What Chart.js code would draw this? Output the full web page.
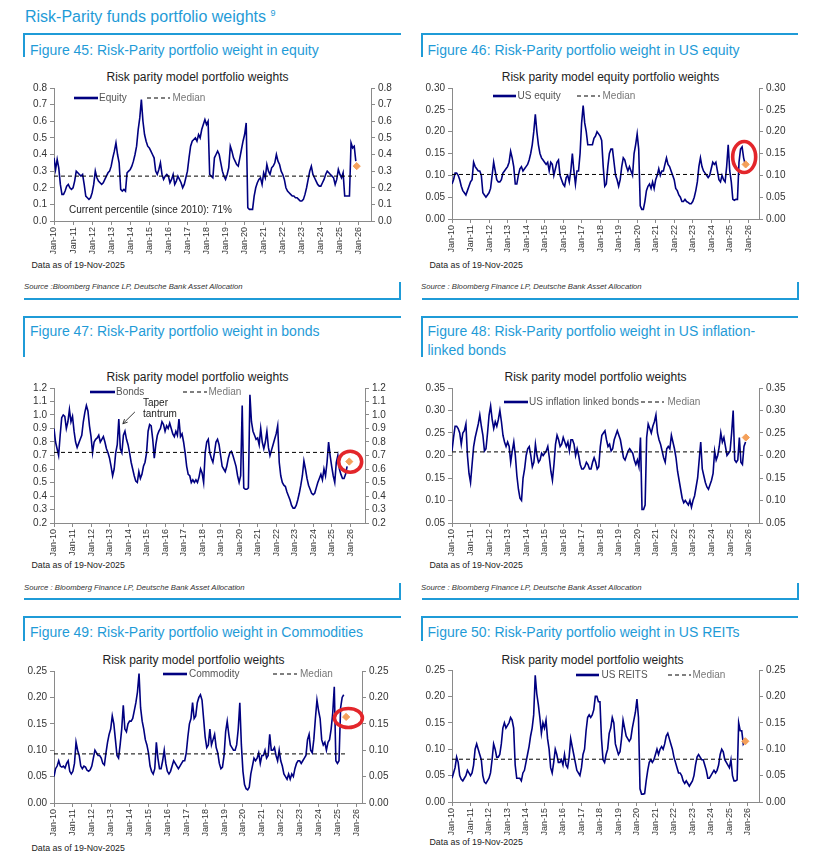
<!DOCTYPE html>
<html>
<head>
<meta charset="utf-8">
<script src="https://cdn.jsdelivr.net/npm/chart.js@4.4.1/dist/chart.umd.min.js"></script>
<style>
  body { margin: 0; background: #fff; font-family: "Liberation Sans", Arial, sans-serif; }
  #page { position: relative; width: 822px; height: 854px; overflow: hidden; }
  .t { position: absolute; white-space: nowrap; }
  .rule { position: absolute; background: #1f9bd7; }
  canvas { position: absolute; }
</style>
</head>
<body>
<div id="page"></div>
<script>
// monthly readings, Jan-10 onwards
const xTickLabels = ['Jan-10','Jan-11','Jan-12','Jan-13','Jan-14','Jan-15','Jan-16','Jan-17',
  'Jan-18','Jan-19','Jan-20','Jan-21','Jan-22','Jan-23','Jan-24','Jan-25','Jan-26'];

const equity = [
  0.38,0.31,0.37,0.32,0.22,0.16,0.16,0.18,0.21,0.22,0.20,0.19,
  0.20,0.24,0.30,0.29,0.28,0.27,0.28,0.22,0.15,0.14,0.13,0.14,
  0.17,0.22,0.30,0.26,0.24,0.23,0.22,0.23,0.25,0.27,0.29,0.30,
  0.33,0.38,0.42,0.47,0.40,0.35,0.19,0.18,0.19,0.18,0.29,0.30,
  0.31,0.33,0.36,0.40,0.45,0.55,0.62,0.73,0.60,0.52,0.48,0.45,
  0.44,0.42,0.40,0.38,0.30,0.28,0.31,0.35,0.28,0.25,0.27,0.28,
  0.27,0.23,0.25,0.28,0.22,0.24,0.27,0.25,0.23,0.20,0.22,0.26,
  0.30,0.38,0.45,0.48,0.49,0.50,0.48,0.52,0.50,0.55,0.58,0.61,
  0.58,0.60,0.28,0.27,0.26,0.38,0.40,0.42,0.40,0.35,0.30,0.27,
  0.25,0.28,0.32,0.45,0.42,0.38,0.36,0.34,0.33,0.38,0.43,0.48,
  0.52,0.59,0.08,0.07,0.07,0.07,0.15,0.20,0.23,0.25,0.26,0.22,
  0.29,0.26,0.34,0.30,0.28,0.32,0.33,0.35,0.40,0.36,0.34,0.30,
  0.28,0.25,0.20,0.18,0.17,0.16,0.15,0.15,0.14,0.14,0.13,0.12,
  0.12,0.13,0.16,0.20,0.25,0.30,0.33,0.28,0.26,0.24,0.22,0.21,
  0.21,0.23,0.25,0.28,0.30,0.29,0.28,0.27,0.26,0.22,0.25,0.31,
  0.28,0.26,0.29,0.15,0.15,0.15,0.15,0.47,0.44,0.45,0.36
];

const usEquity = [
  0.08,0.09,0.105,0.105,0.10,0.09,0.075,0.065,0.06,0.055,0.065,0.075,
  0.085,0.09,0.13,0.12,0.115,0.11,0.11,0.10,0.06,0.055,0.05,0.055,
  0.06,0.07,0.10,0.13,0.11,0.09,0.085,0.085,0.09,0.105,0.11,0.115,
  0.12,0.13,0.155,0.14,0.12,0.08,0.08,0.10,0.115,0.12,0.11,0.115,
  0.12,0.125,0.135,0.15,0.17,0.20,0.24,0.20,0.17,0.15,0.14,0.135,
  0.13,0.125,0.13,0.11,0.13,0.125,0.10,0.115,0.13,0.135,0.10,0.09,
  0.08,0.075,0.095,0.10,0.085,0.11,0.15,0.11,0.08,0.11,0.11,0.15,
  0.22,0.26,0.22,0.20,0.17,0.17,0.17,0.17,0.185,0.19,0.20,0.195,
  0.19,0.18,0.12,0.075,0.08,0.12,0.15,0.16,0.16,0.13,0.10,0.09,
  0.075,0.09,0.12,0.14,0.135,0.12,0.11,0.12,0.11,0.10,0.15,0.17,
  0.195,0.16,0.03,0.022,0.022,0.04,0.065,0.075,0.08,0.07,0.085,0.07,
  0.09,0.10,0.115,0.10,0.11,0.11,0.125,0.14,0.125,0.12,0.11,0.10,
  0.09,0.07,0.065,0.055,0.05,0.04,0.04,0.045,0.04,0.038,0.035,0.035,
  0.04,0.05,0.065,0.085,0.12,0.14,0.12,0.11,0.105,0.10,0.095,0.10,
  0.115,0.13,0.125,0.13,0.11,0.09,0.085,0.10,0.09,0.085,0.12,0.17,
  0.11,0.085,0.045,0.043,0.045,0.045,0.13,0.16,0.165,0.14,0.125
];

const bonds = [
  0.90,0.80,0.75,0.70,0.85,0.98,1.00,0.99,0.90,0.95,1.04,0.95,
  0.99,0.88,0.80,0.76,0.79,0.82,0.85,0.95,1.02,1.07,1.03,0.92,
  0.84,0.72,0.80,0.82,0.83,0.85,0.80,0.82,0.84,0.80,0.75,0.72,
  0.68,0.62,0.55,0.60,0.72,0.78,0.97,0.75,0.72,0.85,0.88,0.82,
  0.78,0.72,0.65,0.60,0.55,0.51,0.50,0.58,0.53,0.56,0.62,0.65,
  0.72,0.88,0.93,0.92,0.82,0.68,0.78,0.85,0.88,0.90,0.95,0.93,
  0.88,0.92,0.90,0.94,0.90,0.86,0.84,0.88,0.85,0.97,0.84,0.86,
  0.80,0.72,0.62,0.56,0.55,0.50,0.52,0.50,0.52,0.50,0.54,0.60,
  0.57,0.50,0.72,0.80,0.82,0.72,0.68,0.65,0.72,0.80,0.82,0.78,
  0.70,0.62,0.60,0.58,0.62,0.68,0.72,0.73,0.70,0.66,0.62,0.55,
  0.50,0.55,1.07,0.46,0.45,0.45,0.46,1.15,0.95,0.88,0.85,0.82,
  0.83,0.78,0.90,0.80,0.75,0.80,0.88,0.76,0.70,0.74,0.78,0.82,
  0.86,0.92,0.65,0.55,0.50,0.48,0.47,0.43,0.40,0.37,0.33,0.31,
  0.31,0.33,0.37,0.42,0.48,0.55,0.66,0.60,0.53,0.48,0.45,0.42,
  0.41,0.42,0.46,0.50,0.53,0.56,0.52,0.60,0.55,0.65,0.80,0.70,
  0.62,0.55,0.50,0.65,0.70,0.60,0.56,0.53,0.53,0.56,0.62
];

const inflationLinked = [
  0.21,0.24,0.265,0.265,0.26,0.25,0.225,0.25,0.255,0.27,0.20,0.16,
  0.14,0.18,0.22,0.24,0.255,0.27,0.29,0.265,0.245,0.21,0.215,0.25,
  0.29,0.31,0.28,0.26,0.275,0.265,0.28,0.30,0.275,0.245,0.23,0.22,
  0.23,0.22,0.185,0.21,0.23,0.20,0.155,0.125,0.105,0.10,0.15,0.17,
  0.20,0.215,0.22,0.20,0.175,0.185,0.225,0.20,0.185,0.19,0.205,0.20,
  0.205,0.21,0.22,0.195,0.165,0.145,0.18,0.225,0.245,0.235,0.22,0.225,
  0.24,0.23,0.22,0.23,0.21,0.235,0.235,0.225,0.20,0.215,0.20,0.18,
  0.17,0.17,0.175,0.185,0.18,0.17,0.17,0.185,0.195,0.185,0.17,0.175,
  0.22,0.245,0.25,0.255,0.235,0.22,0.225,0.21,0.215,0.235,0.245,0.255,
  0.245,0.235,0.215,0.195,0.19,0.20,0.21,0.215,0.21,0.205,0.19,0.18,
  0.19,0.175,0.24,0.08,0.08,0.09,0.24,0.27,0.26,0.25,0.265,0.275,
  0.29,0.25,0.235,0.225,0.21,0.195,0.185,0.215,0.22,0.215,0.245,0.23,
  0.215,0.195,0.165,0.145,0.125,0.105,0.095,0.10,0.095,0.09,0.10,0.085,
  0.10,0.11,0.13,0.15,0.19,0.23,0.17,0.155,0.14,0.13,0.125,0.135,
  0.145,0.16,0.21,0.19,0.20,0.22,0.25,0.23,0.24,0.22,0.20,0.205,
  0.21,0.25,0.30,0.19,0.185,0.19,0.24,0.185,0.18,0.22,0.23
];

const commodity = [
  0.05,0.065,0.07,0.08,0.07,0.068,0.07,0.066,0.075,0.08,0.06,0.055,
  0.06,0.075,0.115,0.10,0.09,0.07,0.065,0.07,0.068,0.062,0.06,0.063,
  0.07,0.085,0.10,0.095,0.09,0.09,0.085,0.075,0.072,0.095,0.115,0.13,
  0.14,0.165,0.15,0.12,0.09,0.085,0.11,0.14,0.185,0.14,0.135,0.15,
  0.155,0.155,0.16,0.175,0.19,0.21,0.245,0.18,0.155,0.14,0.12,0.11,
  0.095,0.07,0.06,0.055,0.065,0.115,0.085,0.065,0.065,0.08,0.10,0.075,
  0.06,0.055,0.06,0.07,0.08,0.075,0.07,0.065,0.07,0.075,0.08,0.08,
  0.095,0.125,0.15,0.16,0.19,0.16,0.165,0.19,0.20,0.205,0.195,0.16,
  0.125,0.105,0.11,0.14,0.11,0.12,0.13,0.105,0.095,0.075,0.065,0.068,
  0.09,0.135,0.155,0.13,0.11,0.105,0.10,0.10,0.11,0.14,0.19,0.11,
  0.06,0.035,0.027,0.025,0.03,0.055,0.07,0.085,0.08,0.085,0.095,0.075,
  0.09,0.09,0.10,0.085,0.09,0.13,0.10,0.10,0.105,0.09,0.08,0.10,
  0.08,0.07,0.055,0.05,0.045,0.055,0.045,0.055,0.05,0.065,0.075,0.08,
  0.08,0.075,0.08,0.085,0.09,0.12,0.13,0.10,0.095,0.12,0.16,0.195,
  0.175,0.16,0.12,0.11,0.115,0.10,0.115,0.12,0.14,0.17,0.22,0.08,
  0.075,0.08,0.18,0.20,0.205
];

const reits = [
  0.045,0.055,0.065,0.085,0.075,0.05,0.043,0.04,0.045,0.05,0.06,0.055,
  0.05,0.055,0.07,0.10,0.11,0.10,0.09,0.08,0.05,0.038,0.035,0.04,
  0.045,0.055,0.08,0.11,0.10,0.085,0.085,0.09,0.11,0.14,0.15,0.14,
  0.145,0.15,0.16,0.155,0.14,0.07,0.045,0.045,0.045,0.04,0.055,0.06,
  0.075,0.09,0.105,0.125,0.14,0.165,0.24,0.205,0.185,0.16,0.13,0.15,
  0.14,0.155,0.12,0.10,0.065,0.055,0.075,0.10,0.09,0.075,0.075,0.08,
  0.07,0.09,0.07,0.065,0.085,0.12,0.105,0.09,0.075,0.06,0.055,0.05,
  0.065,0.09,0.10,0.135,0.16,0.165,0.16,0.165,0.175,0.20,0.20,0.19,
  0.19,0.12,0.08,0.075,0.09,0.10,0.13,0.14,0.16,0.15,0.11,0.10,
  0.09,0.095,0.12,0.155,0.14,0.125,0.12,0.115,0.12,0.14,0.155,0.17,
  0.195,0.16,0.025,0.015,0.015,0.016,0.04,0.06,0.075,0.08,0.075,0.08,
  0.09,0.10,0.09,0.10,0.105,0.10,0.11,0.125,0.13,0.12,0.11,0.10,
  0.085,0.075,0.065,0.055,0.055,0.05,0.04,0.035,0.04,0.035,0.03,0.035,
  0.04,0.05,0.07,0.085,0.09,0.085,0.08,0.08,0.07,0.06,0.045,0.045,
  0.05,0.055,0.06,0.055,0.06,0.07,0.09,0.10,0.095,0.08,0.075,0.07,
  0.065,0.08,0.05,0.04,0.04,0.042,0.15,0.135,0.135,0.11,0.115
];

// medians and latest (orange) readings
const medians = { equity: 0.27, usEquity: 0.102, bonds: 0.723, inflationLinked: 0.208, commodity: 0.093, reits: 0.081 };
const latest  = { equity: 0.33, usEquity: 0.125, bonds: 0.655, inflationLinked: 0.24, commodity: 0.163, reits: 0.115 };

Chart.defaults.font.family = '"Liberation Sans", Arial, sans-serif';

const page = document.getElementById('page');
const NAVY = '#000080', BLUE = '#1f9bd7', AXIS = '#8a8a8a';
const PAD_L = 44, PAD_R = 44, PAD_T = 12, PAD_B = 48;

function text(str, x, yc, size, style) {
  const d = document.createElement('div');
  d.className = 't';
  d.style.left = x + 'px';
  d.style.top = (yc - size * 0.6) + 'px';
  d.style.fontSize = size + 'px';
  d.style.lineHeight = (size * 1.2) + 'px';
  if (style) d.style.cssText += style;
  d.innerHTML = str;
  page.appendChild(d);
  return d;
}
function rule(x, y, w, h) {
  const d = document.createElement('div');
  d.className = 'rule';
  d.style.cssText = `left:${x}px;top:${y}px;width:${w}px;height:${h}px`;
  page.appendChild(d);
}
function sample(x1, x2, y, dashed) {
  const w = x2 - x1;
  const s = document.createElementNS('http://www.w3.org/2000/svg', 'svg');
  s.setAttribute('width', w); s.setAttribute('height', 6);
  s.style.cssText = `position:absolute;left:${x1}px;top:${y - 3}px`;
  s.innerHTML = dashed
    ? `<line x1="0" y1="3" x2="${w}" y2="3" stroke="#000" stroke-width="1.1" stroke-dasharray="4,3"/>`
    : `<line x1="0" y1="3" x2="${w}" y2="3" stroke="${NAVY}" stroke-width="2.6"/>`;
  page.appendChild(s);
}
function legend(y, a, b) {
  sample(a[0], a[1], y, false);
  text(a[3], a[2], y, 10, 'color:#555');
  sample(b[0], b[1], y, true);
  text('Median', b[2], y, 10, 'color:#777');
}

// ellipses / arrow drawn in data coordinates
const marksPlugin = {
  id: 'marks',
  afterDatasetsDraw(chart, args, opts) {
    const ctx = chart.ctx, x = chart.scales.x, y = chart.scales.y;
    (opts.items || []).forEach(m => {
      ctx.save();
      if (m.type === 'ellipse') {
        ctx.strokeStyle = '#e3262b';
        ctx.lineWidth = 3.6;
        ctx.beginPath();
        ctx.ellipse(x.getPixelForValue(m.x), y.getPixelForValue(m.y), m.rx, m.ry, 0, 0, Math.PI * 2);
        ctx.stroke();
      } else if (m.type === 'arrow') {
        const x1 = x.getPixelForValue(m.x1), y1 = y.getPixelForValue(m.y1);
        const x2 = x.getPixelForValue(m.x2), y2 = y.getPixelForValue(m.y2);
        const a = Math.atan2(y2 - y1, x2 - x1);
        ctx.strokeStyle = '#222';
        ctx.lineWidth = 0.9;
        ctx.beginPath(); ctx.moveTo(x1, y1); ctx.lineTo(x2, y2);
        ctx.moveTo(x2 - 5 * Math.cos(a - 0.45), y2 - 5 * Math.sin(a - 0.45));
        ctx.lineTo(x2, y2);
        ctx.lineTo(x2 - 5 * Math.cos(a + 0.45), y2 - 5 * Math.sin(a + 0.45));
        ctx.stroke();
      }
      ctx.restore();
    });
  }
};

function yAxis(pos, p) {
  return {
    position: pos, min: p.yMin, max: p.yMax,
    afterFit: s => { s.width = pos === 'left' ? PAD_L : PAD_R; },
    ticks: { stepSize: p.step, autoSkip: false, color: '#333', font: { size: 10 }, padding: 3,
      callback: v => v.toFixed(p.dec) },
    grid: { drawOnChartArea: false, tickLength: 4, color: AXIS },
    border: { color: AXIS }
  };
}

function addChart(p) {
  const [L, T, W, H] = p.plot;
  const c = document.createElement('canvas');
  c.width = W + PAD_L + PAD_R;
  c.height = H + PAD_T + PAD_B;
  c.style.left = (L - PAD_L) + 'px';
  c.style.top = (T - PAD_T) + 'px';
  page.appendChild(c);

  new Chart(c, {
    type: 'line',
    data: {
      datasets: [
        { label: p.name, data: p.values.map((v, i) => ({ x: 2010 + i / 12, y: v })),
          borderColor: NAVY, borderWidth: 1.6, pointRadius: 0, order: 3 },
        { label: 'Median', data: [{ x: 2010, y: p.median }, { x: p.medianEnd, y: p.median }],
          borderColor: '#000', borderWidth: 1, borderDash: [4, 3], pointRadius: 0, order: 2 },
        { label: 'Latest', data: [{ x: p.lastX, y: p.last }], showLine: false,
          pointStyle: 'rectRot', pointRadius: 3.6, pointBackgroundColor: '#f4a05a',
          pointBorderColor: '#f4a05a', order: 1 }
      ]
    },
    options: {
      responsive: false,
      animation: false,
      layout: { padding: { top: PAD_T, left: 0, right: 0, bottom: 0 } },
      plugins: { legend: { display: false }, tooltip: { enabled: false }, marks: { items: p.marks || [] } },
      scales: {
        x: {
          type: 'linear', min: 2010, max: p.xMax,
          afterBuildTicks: s => { s.ticks = xTickLabels.map((t, i) => ({ value: 2010 + i })); },
          afterFit: s => { s.height = PAD_B; },
          ticks: { autoSkip: false, minRotation: 90, maxRotation: 90, color: '#333',
            font: { size: 9 }, padding: 2, callback: (v, i) => xTickLabels[i] },
          grid: { drawOnChartArea: false, tickLength: 4, color: AXIS },
          border: { color: AXIS }
        },
        y: yAxis('left', p),
        y2: yAxis('right', p)
      }
    },
    plugins: [marksPlugin]
  });
}

// page header and panel frames
text('Risk-Parity funds portfolio weights <sup style="font-size:9px">9</sup>', 25, 14, 16, 'color:' + BLUE);
[[34, 24, 299, 282], [317, 41, 599, 583], [617, 25, null, null]].forEach(([top, bar, bottom, rbar]) => {
  rule(24, top - 1, 377, 2); rule(422, top - 1, 376, 2);
  rule(23, top - 1, 2, bar); rule(421, top - 1, 2, bar);
  if (bottom) {
    rule(24, bottom - 1, 377, 2); rule(422, bottom - 1, 377, 2);
    rule(399, rbar, 2, bottom - rbar + 1); rule(797, rbar, 2, bottom - rbar + 1);
  }
});

const H = 'color:' + BLUE;
text('Figure 45: Risk-Parity portfolio weight in equity', 30, 50, 14, H);
text('Figure 46: Risk-Parity portfolio weight in US equity', 427.5, 50, 14, H);
text('Figure 47: Risk-Parity portfolio weight in bonds', 30, 331.5, 14, H);
text('Figure 48: Risk-Parity portfolio weight in US inflation-', 427.5, 331.5, 14, H);
text('linked bonds', 427.5, 350, 14, H);
text('Figure 49: Risk-Parity portfolio weight in Commodities', 30, 632, 14, H);
text('Figure 50: Risk-Parity portfolio weight in US REITs', 427.5, 632, 14, H);

function ctitle(str, cx, yc) {
  const d = text(str, cx, yc, 12, 'color:#222');
  d.style.transform = 'translateX(-50%)';
}
ctitle('Risk parity model portfolio weights', 197.5, 77);
ctitle('Risk parity model equity portfolio weights', 610.5, 77);
ctitle('Risk parity model portfolio weights', 197.5, 377);
ctitle('Risk parity model portfolio weights', 595.5, 377);
ctitle('Risk parity model portfolio weights', 193.5, 660);
ctitle('Risk parity model portfolio weights', 592.5, 660);

const asOf = 'Data as of 19-Nov-2025';
text(asOf, 31.5, 265.5, 8.8, 'color:#222');
text(asOf, 429.5, 265.5, 8.8, 'color:#222');
text(asOf, 31.5, 565.5, 8.8, 'color:#222');
text(asOf, 429.5, 565.5, 8.8, 'color:#222');
text(asOf, 31.5, 848, 8.8, 'color:#222');
text(asOf, 429.5, 842.5, 8.8, 'color:#222');

const SRC = 'color:#333;font-style:italic';
text('Source :Bloomberg Finance LP, Deutsche Bank Asset Allocation', 24, 287, 7.7, SRC);
text('Source : Bloomberg Finance LP, Deutsche Bank Asset Allocation', 421, 287, 7.7, SRC);
text('Source : Bloomberg Finance LP, Deutsche Bank Asset Allocation', 24, 587.5, 7.7, SRC);
text('Source : Bloomberg Finance LP, Deutsche Bank Asset Allocation', 421, 587.5, 7.7, SRC);

// charts
addChart({ name: 'Equity', values: equity, median: medians.equity, medianEnd: 2025.84,
  last: latest.equity, lastX: 2025.88, plot: [54, 88, 317, 133], xMax: 2026.63,
  yMin: 0, yMax: 0.8, step: 0.1, dec: 1 });
addChart({ name: 'US equity', values: usEquity, median: medians.usEquity, medianEnd: 2025.55,
  last: latest.usEquity, lastX: 2025.86, plot: [452, 88, 307, 131], xMax: 2026.58,
  yMin: 0, yMax: 0.3, step: 0.05, dec: 2,
  marks: [{ type: 'ellipse', x: 2025.78, y: 0.142, rx: 11.5, ry: 15.5 }] });
addChart({ name: 'Bonds', values: bonds, median: medians.bonds, medianEnd: 2025.45,
  last: latest.bonds, lastX: 2025.95, plot: [54, 388, 311, 135], xMax: 2026.8,
  yMin: 0.2, yMax: 1.2, step: 0.1, dec: 1,
  marks: [{ type: 'ellipse', x: 2026.0, y: 0.654, rx: 11.5, ry: 10.5 },
          { type: 'arrow', x1: 2014.37, y1: 1.023, x2: 2013.72, y2: 0.935 }] });
addChart({ name: 'US inflation linked bonds', values: inflationLinked, median: medians.inflationLinked,
  medianEnd: 2025.74, last: latest.inflationLinked, lastX: 2025.85, plot: [452, 388, 307, 135],
  xMax: 2026.56, yMin: 0.05, yMax: 0.35, step: 0.05, dec: 2 });
addChart({ name: 'Commodity', values: commodity, median: medians.commodity, medianEnd: 2025.46,
  last: latest.commodity, lastX: 2025.46, plot: [54, 671, 308, 132], xMax: 2026.3,
  yMin: 0, yMax: 0.25, step: 0.05, dec: 2,
  marks: [{ type: 'ellipse', x: 2025.58, y: 0.161, rx: 14, ry: 9.5 }] });
addChart({ name: 'US REITS', values: reits, median: medians.reits, medianEnd: 2025.86,
  last: latest.reits, lastX: 2025.86, plot: [452, 670, 307, 132], xMax: 2026.6,
  yMin: 0, yMax: 0.25, step: 0.05, dec: 2 });

// legends (inside plot areas)
legend(97.5, [74, 98, 99, 'Equity'], [147, 170, 172.5]);
legend(95.5, [492.5, 516, 517.5, 'US equity'], [577, 600, 602.5]);
legend(391.5, [90, 115, 116, 'Bonds'], [183, 207, 208.5]);
legend(401.5, [503.5, 527.5, 529, 'US inflation linked bonds'], [641, 664, 667.5]);
legend(674, [162.5, 186.5, 189, 'Commodity'], [273, 297, 300]);
legend(675, [576, 599, 601.5, 'US REITS'], [667.5, 691, 692.5]);

// notes
text('Current percentile (since 2010): 71%', 69, 210, 10, 'color:#222');
text('Taper', 143, 403, 10, 'color:#222');
text('tantrum', 143, 414, 10, 'color:#222');
</script>
</body>
</html>
